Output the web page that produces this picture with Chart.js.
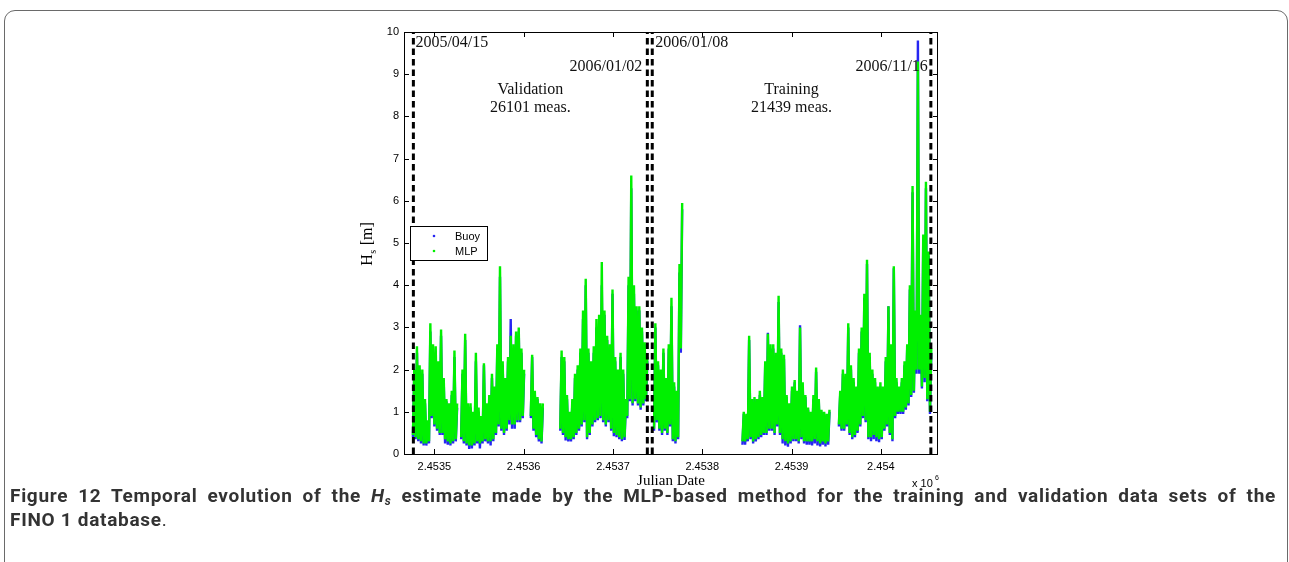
<!DOCTYPE html>
<html>
<head>
<meta charset="utf-8">
<script src="https://cdn.jsdelivr.net/npm/chart.js@4.4.1/dist/chart.umd.min.js"></script>
<style>
  html, body { margin: 0; padding: 0; background: #fff; }
  body { width: 1289px; height: 562px; position: relative; overflow: hidden; }
  .card { position: absolute; left: 4px; top: 10px; width: 1284px; height: 600px;
          border: 1px solid #6a6a6a; border-radius: 11px; box-sizing: border-box; }
  #wrap { position: absolute; left: 340px; top: 20px; width: 620px; height: 480px; }
  .cap { position: absolute; left: 10px; width: 1266px; color: #333;
         font-family: "Liberation Sans Narrow", "Roboto", sans-serif; font-weight: bold;
         font-size: 19px; letter-spacing: 0.7px; line-height: 24px; white-space: nowrap; }
  .cap.l1 { top: 484px; text-align: justify; text-align-last: justify; white-space: normal; }
  .cap.l2 { top: 508px; }
  .cap sub { font-size: 12px; vertical-align: -3px; line-height: 0; }
  .cap .plain { font-weight: normal; }
</style>
</head>
<body>
<div class="card"></div>
<div id="wrap"><canvas id="c" width="620" height="480"></canvas></div>
<div class="cap l1">Figure 12 Temporal evolution of the <i>H<sub>s</sub></i> estimate made by the MLP-based method for the training and validation data sets of the</div>
<div class="cap l2">FINO 1 database<span class="plain">.</span></div>
<script>
// time grid: one bin every 3 days, from 2005/04/15 to 2006/11/16 (Julian dates)
const binStart = 2453476;
const binDays = 3;

// MLP estimate, lowest and highest Hs [m] seen in each bin
const mlpLo = [
  0.45,0.40,0.35,0.30,0.25,0.25,0.30,0.90,0.70,0.60,
  0.50,0.50,0.35,0.30,0.25,0.30,0.35,null,0.40,0.30,
  0.25,0.20,0.20,0.25,0.30,0.25,0.30,0.35,0.30,0.30,
  0.35,0.50,0.70,0.60,0.50,0.60,0.80,0.70,0.70,0.80,
  0.80,0.90,null,null,0.90,0.60,0.45,0.35,0.30,null,
  null,null,null,null,null,0.60,0.50,0.40,0.35,0.35,
  0.40,0.50,0.60,0.70,0.80,0.40,0.50,0.70,0.80,0.85,
  0.90,0.80,0.70,0.80,0.60,0.50,0.45,0.40,0.35,0.40,
  0.90,1.30,1.20,1.30,1.20,1.10,1.20,1.30,null,null,
  0.60,0.80,0.60,0.50,0.60,0.50,0.70,0.35,0.30,0.40,
  2.50,null,null,null,null,null,null,null,null,null,
  null,null,null,null,null,null,null,null,null,null,
  null,null,null,0.30,0.30,0.35,0.40,0.30,0.35,0.40,
  0.45,0.50,0.50,0.60,0.60,0.50,0.70,0.50,0.35,0.30,
  0.25,0.30,0.35,0.35,0.30,0.40,0.30,0.30,0.30,0.30,
  0.35,0.30,0.25,0.30,0.25,0.30,null,null,null,0.70,
  0.60,0.60,0.70,0.50,0.40,0.45,0.55,0.70,0.90,0.80,
  0.40,0.40,0.45,0.40,0.35,0.40,0.60,0.70,0.50,0.35,
  0.90,1.00,1.00,1.00,1.10,1.20,1.40,1.50,2.00,2.00,
  1.60,1.80,1.30,1.00
];
const mlpHi = [
  2.00,2.55,2.10,2.00,1.30,0.80,3.10,2.60,2.55,2.20,
  2.95,1.80,1.30,1.20,1.50,2.45,1.20,null,2.00,2.85,
  1.20,1.20,1.00,2.40,1.10,0.90,2.15,1.20,1.40,1.90,
  1.60,2.60,4.45,2.20,1.80,2.30,2.80,2.60,2.90,3.00,
  2.50,2.00,null,null,2.35,1.50,1.35,1.20,1.20,null,
  null,null,null,null,null,2.45,2.30,1.40,1.00,1.30,
  1.90,2.10,2.50,3.40,4.15,2.50,2.20,2.55,3.20,3.30,
  4.55,3.40,2.80,2.60,3.90,2.30,2.00,2.40,2.00,1.30,
  4.20,6.60,4.00,3.50,3.50,3.00,2.65,2.30,null,null,
  3.10,2.20,2.00,2.50,1.80,2.60,3.70,1.70,1.50,4.50,
  5.95,null,null,null,null,null,null,null,null,null,
  null,null,null,null,null,null,null,null,null,null,
  null,null,null,1.00,0.95,2.80,1.30,1.35,1.30,1.50,
  1.35,2.20,2.85,2.60,2.60,2.40,3.75,2.50,2.35,1.40,
  1.20,1.60,1.75,1.50,3.00,1.70,1.40,1.10,1.00,1.40,
  2.05,1.30,1.05,1.00,0.95,1.05,null,null,null,1.50,
  2.00,1.90,3.10,2.10,1.80,1.60,2.50,3.00,3.80,4.60,
  2.40,2.00,1.80,1.60,1.70,1.60,2.30,3.50,2.60,4.45,
  1.80,1.60,1.80,2.20,2.60,4.00,6.35,3.40,9.30,3.30,
  5.20,6.45,4.80,2.50
];

// buoy measurement, lowest and highest Hs [m] in each bin
const buoyLo = [
  0.40,0.35,0.30,0.25,0.20,0.20,0.25,0.85,0.65,0.55,
  0.45,0.45,0.25,0.22,0.20,0.25,0.30,null,0.35,0.25,
  0.20,0.12,0.13,0.20,0.25,0.13,0.25,0.30,0.25,0.20,
  0.30,0.45,0.65,0.55,0.45,0.55,0.70,0.60,0.60,0.75,
  0.75,0.85,null,null,0.85,0.55,0.40,0.30,0.25,null,
  null,null,null,null,null,0.55,0.45,0.32,0.30,0.30,
  0.35,0.45,0.55,0.65,0.75,0.35,0.45,0.65,0.75,0.80,
  0.85,0.75,0.65,0.75,0.55,0.42,0.40,0.35,0.30,0.33,
  0.85,1.25,1.15,1.25,1.15,1.05,1.15,1.25,null,null,
  0.55,0.75,0.55,0.45,0.55,0.45,0.65,0.30,0.25,0.35,
  2.40,null,null,null,null,null,null,null,null,null,
  null,null,null,null,null,null,null,null,null,null,
  null,null,null,0.22,0.22,0.30,0.35,0.25,0.30,0.35,
  0.40,0.45,0.45,0.55,0.55,0.45,0.65,0.45,0.25,0.20,
  0.17,0.25,0.30,0.30,0.25,0.35,0.25,0.22,0.22,0.20,
  0.25,0.20,0.18,0.22,0.18,0.22,null,null,null,0.65,
  0.55,0.55,0.65,0.45,0.35,0.40,0.50,0.65,0.85,0.75,
  0.35,0.30,0.35,0.30,0.28,0.35,0.55,0.65,0.45,0.30,
  0.85,0.95,0.95,0.95,1.05,1.15,1.35,1.45,1.90,1.90,
  1.55,1.70,1.25,0.95
];
const buoyHi = [
  1.90,2.40,2.00,1.90,1.20,0.75,2.90,2.50,2.40,2.10,
  2.80,1.70,1.25,1.10,1.40,2.30,1.10,null,1.90,2.70,
  1.10,1.10,0.95,2.20,1.00,0.85,2.10,1.10,1.30,1.80,
  1.50,2.50,4.20,2.10,1.70,2.20,3.20,2.50,2.80,2.90,
  2.40,1.90,null,null,2.30,1.40,1.30,1.10,1.10,null,
  null,null,null,null,null,2.30,2.20,1.30,0.95,1.20,
  1.80,2.00,2.40,3.20,4.00,2.40,2.10,2.40,3.00,3.10,
  4.00,3.30,2.70,2.50,3.80,2.20,1.90,2.30,1.90,1.20,
  4.00,6.30,3.80,3.40,3.40,2.90,2.60,2.20,null,null,
  3.00,2.10,1.90,2.40,1.70,2.50,3.50,1.60,1.40,4.30,
  5.80,null,null,null,null,null,null,null,null,null,
  null,null,null,null,null,null,null,null,null,null,
  null,null,null,0.95,0.90,2.70,1.25,1.30,1.25,1.40,
  1.30,2.10,2.87,2.50,2.50,2.30,3.60,2.40,2.25,1.35,
  1.15,1.50,1.70,1.45,3.05,1.60,1.35,1.05,0.95,1.30,
  1.95,1.25,1.00,0.95,0.90,1.00,null,null,null,1.40,
  1.90,1.80,3.00,2.00,1.70,1.55,2.40,2.90,3.70,4.50,
  2.30,1.90,1.70,1.55,1.60,1.55,2.20,3.50,2.50,4.40,
  1.70,1.55,1.70,2.10,2.50,3.90,6.20,3.30,9.80,3.20,
  5.10,6.30,4.70,2.40
];

// dashed lines that split the validation and training periods
const splitDates = [2453476.5, 2453738.5, 2453744, 2454056];
const splitLabels = ['2005/04/15', '2006/01/02', '2006/01/08', '2006/11/16'];

const xTicks = [2453500, 2453600, 2453700, 2453800, 2453900, 2454000];
const xTickLabels = ['2.4535', '2.4536', '2.4537', '2.4538', '2.4539', '2.454'];
const yTicks = [0, 1, 2, 3, 4, 5, 6, 7, 8, 9, 10];

const BLUE = '#2626f2', GREEN = '#00f000';

function zigzag(lo, hi) {
  const pts = [];
  for (let i = 0; i < lo.length; i++) {
    const t = binStart + i * binDays;
    if (lo[i] === null) { pts.push({ x: t, y: null }); continue; }
    pts.push({ x: t, y: lo[i] }, { x: t + binDays / 2, y: hi[i] });
  }
  return pts;
}

const splitSets = splitDates.map(d => ({
  data: [{ x: d, y: 0 }, { x: d, y: 10 }],
  borderColor: '#000', borderWidth: 3, borderDash: [6.5, 4],
  pointRadius: 0, order: 0
}));

const figurePlugin = {
  id: 'figure',
  afterDraw(chart) {
    const { ctx, chartArea: a } = chart;
    const xs = chart.scales.x, ys = chart.scales.y;
    ctx.save();
    // axes box with inward ticks
    ctx.strokeStyle = '#000';
    ctx.lineWidth = 1;
    ctx.strokeRect(a.left + 0.5, a.top + 0.5, a.right - a.left - 1, a.bottom - a.top);
    ctx.beginPath();
    xTicks.forEach(v => {
      const px = Math.round(xs.getPixelForValue(v)) + 0.5;
      ctx.moveTo(px, a.bottom); ctx.lineTo(px, a.bottom - 5);
      ctx.moveTo(px, a.top); ctx.lineTo(px, a.top + 5);
    });
    yTicks.forEach(v => {
      const py = Math.round(ys.getPixelForValue(v)) + 0.5;
      ctx.moveTo(a.left, py); ctx.lineTo(a.left + 5, py);
      ctx.moveTo(a.right, py); ctx.lineTo(a.right - 5, py);
    });
    ctx.stroke();

    // period annotations
    const px = splitDates.map(d => xs.getPixelForValue(d));
    ctx.fillStyle = '#111';
    ctx.font = '16px "Liberation Serif", "Times New Roman", serif';
    ctx.textBaseline = 'middle';
    ctx.textAlign = 'left';
    ctx.fillText(splitLabels[0], px[0] + 2, ys.getPixelForValue(9.75));
    ctx.fillText(splitLabels[2], px[2] + 3, ys.getPixelForValue(9.75));
    ctx.textAlign = 'right';
    ctx.fillText(splitLabels[1], px[1] - 5, ys.getPixelForValue(9.18));
    ctx.fillText(splitLabels[3], px[3] - 3, ys.getPixelForValue(9.18));
    ctx.textAlign = 'center';
    ctx.fillText('Validation', (px[0] + px[1]) / 2, ys.getPixelForValue(8.63));
    ctx.fillText('26101 meas.', (px[0] + px[1]) / 2, ys.getPixelForValue(8.2));
    ctx.fillText('Training', (px[2] + px[3]) / 2, ys.getPixelForValue(8.63));
    ctx.fillText('21439 meas.', (px[2] + px[3]) / 2, ys.getPixelForValue(8.2));

    // legend box
    const lx = a.left + 6, ly = Math.round(ys.getPixelForValue(5.4)) + 0.5;
    const lh = Math.round(ys.getPixelForValue(4.6)) - Math.round(ys.getPixelForValue(5.4));
    ctx.fillStyle = '#fff';
    ctx.fillRect(lx, ly, 77, lh);
    ctx.strokeStyle = '#000';
    ctx.strokeRect(lx + 0.5, ly, 77, lh);
    ctx.fillStyle = BLUE;
    ctx.beginPath(); ctx.arc(lx + 24, ly + 9.5, 1.3, 0, Math.PI * 2); ctx.fill();
    ctx.fillStyle = GREEN;
    ctx.beginPath(); ctx.arc(lx + 24, ly + 24.5, 1.3, 0, Math.PI * 2); ctx.fill();
    ctx.fillStyle = '#000';
    ctx.font = '11px "Liberation Sans", Arial, sans-serif';
    ctx.textAlign = 'left';
    ctx.fillText('Buoy', lx + 45, ly + 10);
    ctx.fillText('MLP', lx + 45, ly + 25);

    // x axis title and exponent
    ctx.font = '15px "Liberation Serif", "Times New Roman", serif';
    ctx.textAlign = 'center';
    ctx.textBaseline = 'alphabetic';
    ctx.fillText('Julian Date', (a.left + a.right) / 2, a.bottom + 31);
    ctx.font = '11px "Liberation Sans", Arial, sans-serif';
    ctx.textAlign = 'left';
    ctx.fillText('x 10', a.right - 26, a.bottom + 33);
    ctx.font = '7px "Liberation Sans", Arial, sans-serif';
    ctx.fillText('6', a.right - 3, a.bottom + 26);

    // y axis title  H_s [m], read bottom to top
    ctx.translate(a.left - 32, ys.getPixelForValue(4.46));
    ctx.rotate(-Math.PI / 2);
    ctx.textAlign = 'left';
    ctx.font = '16px "Liberation Serif", "Times New Roman", serif';
    ctx.fillText('H', 0, 0);
    let w = ctx.measureText('H').width;
    ctx.font = '10px "Liberation Serif", "Times New Roman", serif';
    ctx.fillText('s', w + 0.5, 4);
    w += ctx.measureText('s').width + 1;
    ctx.font = '16px "Liberation Serif", "Times New Roman", serif';
    ctx.fillText(' [m]', w, 0);
    ctx.restore();
  }
};

Chart.defaults.font.family = '"Liberation Sans", Arial, sans-serif';
Chart.defaults.font.size = 11;
Chart.defaults.color = '#000';

new Chart(document.getElementById('c'), {
  type: 'line',
  data: {
    datasets: [
      ...splitSets,
      { label: 'MLP', data: zigzag(mlpLo, mlpHi), borderColor: GREEN, borderWidth: 2.4,
        pointRadius: 0, spanGaps: false, order: 1 },
      { label: 'Buoy', data: zigzag(buoyLo, buoyHi), borderColor: BLUE, borderWidth: 2.4,
        pointRadius: 0, spanGaps: false, order: 2 }
    ]
  },
  options: {
    responsive: false,
    animation: false,
    layout: { padding: { top: 12, right: 22, left: 0, bottom: 0 } },
    plugins: { legend: { display: false }, tooltip: { enabled: false } },
    scales: {
      x: {
        type: 'linear', min: 2453466, max: 2454064,
        grid: { display: false, drawTicks: false },
        border: { display: false },
        afterBuildTicks: s => { s.ticks = xTicks.map(v => ({ value: v })); },
        afterFit: s => { s.height = 46; },
        ticks: { autoSkip: false, maxRotation: 0, padding: 6,
                 callback: v => xTickLabels[xTicks.indexOf(v)] }
      },
      y: {
        min: 0, max: 10,
        grid: { display: false, drawTicks: false },
        border: { display: false },
        afterBuildTicks: s => { s.ticks = yTicks.map(v => ({ value: v })); },
        afterFit: s => { s.width = 64; },
        ticks: { padding: 5, callback: v => String(v) }
      }
    }
  },
  plugins: [figurePlugin]
});
</script>
</body>
</html>
